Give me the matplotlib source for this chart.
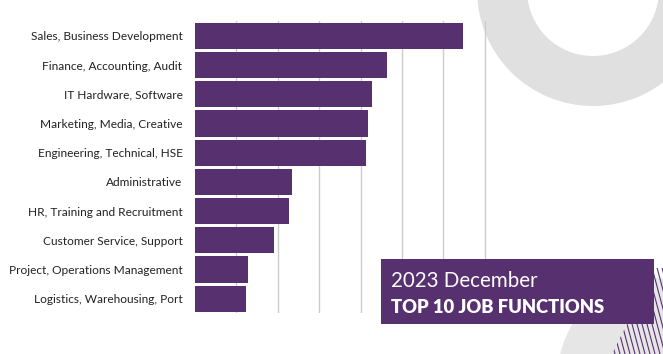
import numpy as np
import matplotlib.pyplot as plt
from matplotlib.patches import Wedge, Circle, Rectangle, Polygon

plt.rcParams['font.family'] = ['Lato', 'DejaVu Sans']

# job functions, top to bottom
functions = ['Sales, Business Development', 'Finance, Accounting, Audit',
             'IT Hardware, Software', 'Marketing, Media, Creative',
             'Engineering, Technical, HSE', 'Administrative',
             'HR, Training and Recruitment', 'Customer Service, Support',
             'Project, Operations Management', 'Logistics, Warehousing, Port']
# (one grid step = 100)
postings = [647, 463, 427, 419, 414, 235, 228, 190, 128, 123]
grid_ticks = [100, 200, 300, 400, 500, 600, 700]

purple = '#57306f'
W, H = 663, 354

fig = plt.figure(figsize=(W / 100, H / 100), dpi=100)

# background decorations in pixel coords
bg = fig.add_axes([0, 0, 1, 1], zorder=0)
bg.set_xlim(0, W)
bg.set_ylim(H, 0)
bg.axis('off')
bg.add_patch(Wedge((593, -10), 116, 0, 360, width=50, color='#e0e0e0', lw=0))
bg.add_patch(Circle((655, 375), 97, color='#e6e6e6', lw=0))
clip = Polygon([[655, 268], [663, 268], [663, 354], [612, 354]], closed=True,
               transform=bg.transData)
for x0 in np.arange(560, 700, 5):
    ln, = bg.plot([x0, x0 + 25], [260, 354], color=purple, lw=0.8)
    ln.set_clip_path(clip)

# bar chart
ax = fig.add_axes([195 / W, 1 - 313.4 / H, 331 / W, 292.2 / H], zorder=1)
ax.patch.set_alpha(0)
y = np.arange(len(functions))
ax.barh(y, postings, height=0.9, color=purple, zorder=3)
for t in grid_ticks:
    ax.axvline(t, color='#cccccc', lw=1, zorder=1)
ax.set_xlim(0, 800)
ax.set_ylim(len(functions) - 0.5, -0.5)
ax.set_yticks(y)
ax.set_yticklabels(functions, fontsize=8.55, color='#222222')
ax.tick_params(axis='y', length=0, pad=9)
ax.set_xticks([])
for s in ax.spines.values():
    s.set_visible(False)

# title box
top = fig.add_axes([0, 0, 1, 1], zorder=2)
top.set_xlim(0, W)
top.set_ylim(H, 0)
top.axis('off')
top.add_patch(Rectangle((381, 259), 273, 65, color=purple, lw=0))
top.text(391, 287, '2023 December', color='white', fontsize=14.8,
         fontweight='normal', va='baseline')
top.text(391, 313, 'TOP 10 JOB FUNCTIONS', color='white', fontsize=13.2,
         fontweight='heavy', va='baseline')

fig.savefig('out.png', dpi=100)
